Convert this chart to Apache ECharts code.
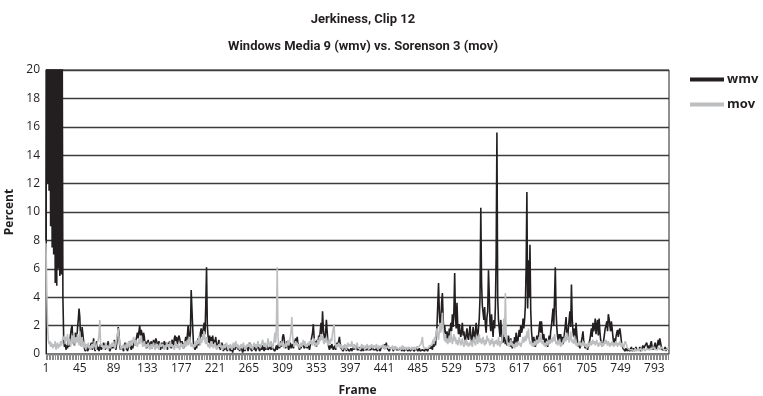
<!DOCTYPE html>
<html><head><meta charset="utf-8">
<script src="https://cdn.jsdelivr.net/npm/echarts@6/dist/echarts.min.js"></script>
<style>html,body{margin:0;padding:0;background:#fff}#c{width:763px;height:396px}</style>
</head><body><div id="c"></div>
<script>
var titleLine1 = "Jerkiness, Clip 12";
var titleLine2 = "Windows Media 9 (wmv) vs. Sorenson 3 (mov)";
var seriesNames = ["wmv", "mov"];
var yTicks = [0,2,4,6,8,10,12,14,16,18,20];

var wmv = [
8,26,12,30,11.5,27,9,29,7.5,25,7,30,5,26,4.8,28,6,31,5.5,27,
5.6,24,4,1.2,0.5,0.8,0.3,0.6,0.4,1.0,0.5,0.9,1.4,1.8,2.0,0.8,1.2,0.6,1.5,1.3,
1.0,1.8,2.4,3.2,2.6,1.1,0.6,1.9,2.0,0.9,0.4,0.2,0.3,0.5,0.2,0.1,0.4,0.3,0.6,0.8,
0.3,0.5,1.1,0.4,0.2,0.6,0.9,0.3,0.5,0.2,0.4,0.7,0.3,0.2,0.5,0.8,0.6,0.3,0.4,0.2,
0.6,0.9,0.4,0.2,0.3,0.5,0.7,0.4,0.6,1.0,0.5,0.3,0.7,1.2,1.9,1.4,0.6,0.3,0.2,0.5,
0.4,0.2,0.6,0.8,0.3,0.5,0.2,0.4,0.7,0.9,0.5,0.3,0.6,0.4,0.8,1.0,0.6,0.9,1.2,1.5,
1.1,1.6,2.0,1.3,1.7,1.4,0.8,1.5,1.2,0.6,0.9,0.4,0.7,1.0,0.5,0.8,0.6,0.9,0.4,0.7,
1.0,0.6,0.8,1.1,1.2,0.7,0.5,0.9,0.6,0.3,0.5,0.8,0.4,0.6,0.9,0.7,0.5,0.8,0.3,0.6,
0.5,0.9,0.7,0.4,1.0,0.8,0.6,1.1,1.3,0.9,1.2,0.7,1.0,1.3,1.1,0.8,0.5,0.9,0.7,0.4,
0.6,0.9,1.2,0.8,1.3,2.0,1.4,0.9,1.5,4.5,4.4,1.8,0.7,0.5,0.3,0.6,0.4,0.8,1.1,0.6,
0.9,1.5,1.8,1.2,1.6,1.9,2.2,1.4,3.5,6.1,2.0,1.2,0.8,1.3,0.6,1.2,0.9,1.3,0.7,1.0,
0.8,1.2,0.6,0.4,0.7,1.0,0.5,0.3,0.6,0.8,0.4,0.2,0.5,0.3,0.7,0.4,0.2,0.3,0.6,0.4,
0.2,0.5,0.3,0.1,0.4,0.6,0.3,0.2,0.4,0.7,0.3,0.5,0.2,0.4,0.6,0.3,0.1,0.3,0.5,0.2,
0.4,0.3,0.6,0.2,0.5,0.8,0.4,0.3,0.2,0.5,0.3,0.6,0.4,0.2,0.3,0.5,0.7,0.4,0.2,0.3,
0.5,0.3,0.6,0.4,0.2,0.5,0.3,0.4,0.6,0.3,0.2,0.4,0.5,0.3,0.6,0.4,0.3,0.5,0.2,0.4,
0.6,0.3,0.5,0.8,0.4,0.6,0.9,0.5,1.2,1.4,1.1,0.6,0.4,0.7,0.9,0.5,0.3,0.6,0.8,0.4,
0.5,0.7,0.4,0.6,0.9,1.1,0.8,1.2,0.7,0.5,0.3,0.6,0.4,0.7,0.5,0.8,0.4,0.3,0.5,0.6,
0.4,0.7,0.5,0.3,0.6,0.9,1.2,1.5,2.1,1.2,0.6,0.9,0.5,1.0,0.7,1.3,1.0,1.6,2.2,1.4,
3.0,1.8,1.2,0.9,1.5,2.4,1.6,0.8,0.5,0.3,0.6,0.4,0.7,0.5,0.3,0.4,0.6,0.3,0.5,0.8,
0.6,0.9,1.2,0.7,0.4,0.3,0.5,0.2,0.4,0.3,0.6,0.2,0.4,0.3,0.5,0.2,0.3,0.4,0.2,0.3,
0.5,0.3,0.2,0.4,0.6,0.3,0.2,0.4,0.3,0.5,0.2,0.3,0.4,0.2,0.5,0.3,0.2,0.4,0.3,0.5,
0.3,0.2,0.4,0.3,0.2,0.5,0.3,0.4,0.2,0.3,0.5,0.2,0.3,0.4,0.3,0.2,0.4,0.5,0.3,0.6,
0.4,0.7,0.5,0.8,0.4,0.3,0.5,0.2,0.4,0.3,0.5,0.4,0.2,0.3,0.5,0.4,0.3,0.2,0.4,0.3,
0.2,0.3,0.4,0.2,0.3,0.5,0.2,0.3,0.2,0.4,0.3,0.2,0.3,0.4,0.2,0.3,0.2,0.4,0.3,0.2,
0.3,0.2,0.4,0.3,0.2,0.3,0.4,0.2,0.3,0.2,0.3,0.4,0.3,0.2,0.4,0.3,0.5,0.2,0.4,0.3,
0.5,0.4,0.6,0.3,0.7,0.5,0.9,0.6,1.2,2.0,3.5,5.0,3.0,1.8,2.4,3.6,4.3,2.5,1.5,2.0,
1.4,0.9,1.6,1.2,1.0,1.8,1.3,2.2,1.6,2.8,1.9,3.0,5.7,2.6,1.8,3.6,2.0,1.4,2.1,1.5,
1.2,1.7,2.2,1.3,1.6,1.1,0.9,1.4,1.8,1.2,1.0,1.5,2.0,1.3,0.8,1.2,1.9,1.4,1.0,1.6,
2.2,1.5,1.1,1.8,2.5,4.0,10.3,5.0,3.4,3.5,2.4,3.3,2.0,1.5,2.6,3.0,5.9,4.2,2.2,1.6,
2.8,1.9,1.2,2.4,1.8,3.3,6.9,15.6,4.0,2.4,1.8,1.2,2.4,1.6,1.0,0.8,1.4,1.1,0.7,1.0,
0.6,0.9,1.3,0.8,0.5,1.1,0.7,0.4,0.9,0.6,1.2,0.8,1.5,1.0,0.7,1.3,1.7,1.2,2.0,1.5,
1.7,2.5,1.8,2.4,3.4,6.0,11.4,3.2,6.6,4.0,7.7,3.1,1.6,1.0,0.7,1.2,0.8,0.5,0.9,1.3,
0.8,1.2,1.8,2.3,1.5,2.3,1.6,1.0,1.4,0.9,0.6,1.1,0.7,0.5,0.9,1.3,0.8,1.6,2.0,2.6,
3.2,2.0,4.0,6.1,3.0,1.8,1.2,0.9,1.4,1.1,1.4,0.8,1.2,0.7,1.0,1.5,2.0,2.6,1.5,1.1,
1.8,2.4,3.0,1.9,4.9,2.5,1.6,1.2,1.8,1.0,2.2,1.4,0.8,0.5,0.7,0.4,0.6,0.9,1.2,1.6,
0.9,0.6,0.4,0.7,0.5,0.3,0.6,0.8,1.0,1.4,1.8,1.2,2.2,1.6,1.9,2.5,1.4,2.0,2.4,1.3,
2.5,1.6,1.0,0.8,0.5,0.7,1.0,1.4,1.8,2.0,2.3,1.6,2.8,2.5,2.0,1.6,2.3,1.8,1.2,0.8,
1.1,0.7,1.2,1.5,1.7,1.2,1.6,1.8,1.4,0.9,0.6,0.4,0.3,0.5,0.2,0.4,0.3,0.2,0.4,0.3,
0.2,0.3,0.5,0.2,0.3,0.4,0.2,0.3,0.5,0.3,0.2,0.4,0.3,0.5,0.2,0.3,0.4,0.6,0.3,0.5,
0.4,0.6,0.8,0.5,0.3,0.6,0.4,0.7,0.9,0.5,0.3,0.4,0.6,0.8,0.5,0.3,0.7,1.0,0.6,1.1,
0.8,0.5,0.3,0.4,0.2,0.3,0.5,0.2,0.4,0.3,0.5,0.3
];

var mov = [
7.8,4.5,2.0,1.0,0.7,0.9,0.5,0.8,0.6,0.4,0.7,0.5,0.9,0.3,0.6,0.8,0.4,0.7,0.5,0.9,
0.6,0.8,1.2,1.0,1.3,0.7,1.2,0.9,1.4,0.6,1.1,0.8,0.5,1.0,1.3,0.7,1.5,1.0,0.6,1.2,
0.8,1.4,1.0,0.6,1.6,0.9,0.5,1.2,0.7,0.4,0.9,0.6,0.3,0.7,0.5,0.8,0.4,0.6,0.3,0.5,
0.7,0.4,0.6,0.9,0.5,0.3,0.6,0.8,1.0,1.3,2.4,0.8,0.5,0.7,0.4,0.6,0.3,0.5,0.8,0.4,
0.6,0.3,0.5,0.7,0.4,0.6,0.8,0.5,0.9,0.6,0.4,0.7,1.0,1.4,1.8,1.2,0.7,0.5,0.3,0.6,
0.4,0.7,0.5,0.3,0.6,0.8,0.4,0.6,0.9,0.5,0.7,1.0,0.6,0.8,1.2,0.9,0.6,1.0,0.7,0.5,
0.8,1.1,0.7,0.9,1.3,0.8,0.5,0.7,0.9,0.6,0.4,0.7,0.5,0.8,0.6,0.3,0.5,0.7,0.4,0.6,
0.8,0.5,0.3,0.6,0.4,0.7,0.5,0.3,0.6,0.8,0.5,0.4,0.7,0.5,0.3,0.6,0.4,0.8,0.5,0.7,
0.4,0.6,0.9,0.5,0.7,0.4,0.6,0.3,0.5,0.8,0.6,0.4,0.7,0.5,0.3,0.6,0.8,0.5,0.7,0.4,
0.6,0.9,0.5,0.7,1.0,0.6,0.8,1.2,0.7,0.5,0.8,0.6,0.4,0.7,0.5,0.9,0.6,1.0,0.7,1.3,
0.9,0.6,1.1,0.8,1.4,1.0,1.6,0.9,0.7,1.2,0.8,0.5,0.7,0.4,0.6,0.9,0.5,0.7,0.4,0.6,
0.8,0.5,0.3,0.6,0.4,0.7,0.5,0.8,0.4,0.6,0.3,0.5,0.7,0.4,0.6,0.8,0.5,0.3,0.6,0.4,
0.7,0.5,0.3,0.6,0.8,0.4,0.6,0.9,0.5,0.7,0.4,0.6,0.3,0.5,0.7,0.4,0.6,0.8,0.5,0.3,
0.6,0.4,0.7,0.5,0.8,0.6,0.4,0.7,0.5,0.3,0.6,0.8,0.5,0.7,0.4,0.6,0.9,0.5,0.7,0.4,
0.6,0.8,1.0,0.7,0.5,0.8,0.6,0.4,0.7,1.1,0.8,0.5,0.7,0.9,0.6,0.4,0.7,1.0,1.5,0.8,
2.0,6.1,1.2,0.7,0.5,0.8,0.6,0.9,0.5,0.7,0.4,0.6,0.8,0.5,0.7,1.0,0.6,0.8,1.2,1.6,
2.6,1.3,0.8,0.5,0.7,0.9,0.6,0.8,0.5,0.7,0.4,0.6,0.8,0.5,0.7,1.0,0.6,0.9,0.5,0.7,
0.5,0.8,0.6,0.9,0.7,1.0,0.8,0.6,0.9,1.1,0.7,0.5,0.8,0.6,1.0,0.7,1.2,0.9,1.4,1.0,
1.3,0.9,0.7,1.1,0.8,1.2,0.9,0.6,0.8,1.0,0.7,1.1,0.9,1.5,1.8,2.1,0.8,0.6,0.4,0.7,
0.5,0.8,0.6,0.4,0.7,0.5,0.3,0.6,0.4,0.7,0.5,0.3,0.6,0.8,0.5,0.4,0.7,0.5,0.9,0.6,
0.4,0.7,0.5,0.3,0.6,0.8,0.5,0.4,0.6,0.3,0.5,0.7,0.4,0.6,0.5,0.3,0.6,0.4,0.7,0.5,
0.3,0.6,0.4,0.5,0.7,0.4,0.3,0.6,0.5,0.4,0.7,0.5,0.3,0.6,0.4,0.5,0.3,0.6,0.4,0.7,
0.5,0.3,0.6,0.4,0.5,0.3,0.6,0.4,0.3,0.5,0.4,0.6,0.3,0.5,0.4,0.3,0.5,0.4,0.6,0.3,
0.4,0.5,0.3,0.4,0.6,0.3,0.5,0.4,0.3,0.5,0.4,0.3,0.5,0.6,0.4,0.3,0.5,0.4,0.3,0.5,
0.4,0.3,0.5,0.4,0.6,0.5,0.4,0.6,0.7,0.9,1.2,0.6,0.4,0.3,0.5,0.4,0.3,0.5,0.4,0.6,
0.5,0.7,0.6,0.8,1.0,0.7,1.2,0.9,1.4,1.8,1.3,1.0,1.6,2.2,1.5,2.0,2.9,1.8,1.2,0.9,
1.4,0.8,1.1,0.7,0.9,1.3,0.8,1.6,1.1,0.7,1.0,1.4,0.9,1.2,0.7,1.0,0.6,0.9,1.2,0.8,
0.6,0.9,1.1,0.7,0.5,0.8,1.0,0.6,0.9,0.7,0.5,0.8,0.6,1.0,0.7,0.5,0.9,1.2,0.8,0.6,
0.9,1.3,0.7,1.0,1.4,0.8,1.1,0.7,0.9,1.2,0.8,0.6,1.0,0.7,1.3,0.9,1.1,0.8,0.6,1.0,
0.7,1.1,0.8,0.5,0.9,0.7,1.0,0.8,0.6,1.2,0.8,0.5,0.9,0.7,1.1,1.6,2.5,1.2,4.3,1.5,
0.9,0.6,0.8,0.5,0.7,1.0,0.6,0.8,0.5,0.7,0.4,0.6,0.8,0.5,0.7,0.9,0.6,0.8,0.5,0.7,
0.9,1.2,0.8,1.0,1.3,0.9,1.6,1.1,1.8,1.0,0.7,0.9,0.6,0.8,0.5,0.7,0.9,0.6,0.8,1.0,
0.7,0.9,1.2,0.8,1.4,1.0,0.7,0.9,0.6,0.8,0.5,0.7,0.9,0.6,0.8,1.0,0.7,0.9,1.1,0.8,
1.2,0.9,1.4,1.0,0.7,0.9,0.6,0.8,1.0,0.7,0.5,0.8,0.6,0.9,1.1,0.8,1.3,0.9,1.5,1.0,
1.2,0.8,1.0,1.6,1.1,0.8,1.0,0.7,1.3,0.9,0.6,0.8,0.5,0.7,0.9,0.6,0.8,0.5,0.7,0.9,
0.6,0.8,0.5,0.7,0.4,0.6,0.8,0.5,0.7,0.9,0.6,0.8,1.0,0.7,0.9,0.6,0.8,1.0,0.7,0.5,
0.8,0.6,0.9,0.7,0.5,0.8,0.6,0.9,0.7,1.0,0.8,0.6,0.9,0.7,0.5,0.8,0.6,0.9,0.7,0.5,
0.8,0.6,0.9,0.7,0.5,0.8,0.6,0.9,0.7,0.5,0.8,0.6,0.4,0.7,0.9,1.0,0.6,0.4,0.3,0.5,
0.3,0.4,0.2,0.3,0.4,0.3,0.2,0.4,0.3,0.2,0.3,0.4,0.2,0.3,0.4,0.3,0.2,0.3,0.4,0.3,
0.2,0.3,0.4,0.3,0.5,0.3,0.4,0.2,0.3,0.4,0.3,0.5,0.4,0.3,0.2,0.4,0.3,0.5,0.4,0.3,
0.4,0.3,0.5,0.4,0.3,0.2,0.4,0.3,0.2,0.3,0.4,0.3
];

var frames = wmv.map(function (_, i) { return String(i + 1); });

var FONT = "'Open Sans', 'Noto Sans', sans-serif";
var TFONT = "Roboto, 'Open Sans', sans-serif";
var INK = '#231f20';

var chart = echarts.init(document.getElementById('c'), null, {renderer: 'canvas'});
chart.setOption({
  animation: false,
  backgroundColor: '#fff',
  title: [
    {text: titleLine1, left: 358, top: 8, textAlign: 'center',
     textStyle: {fontFamily: TFONT, fontWeight: 'bold', fontSize: 13, color: INK}},
    {text: titleLine2, left: 358, top: 35, textAlign: 'center',
     textStyle: {fontFamily: TFONT, fontWeight: 'bold', fontSize: 13, color: INK}}
  ],
  legend: {
    orient: 'vertical', left: 685, top: 68,
    itemWidth: 34, itemHeight: 4, itemGap: 12, icon: 'rect',
    textStyle: {fontFamily: FONT, fontWeight: 'bold', fontSize: 13, color: INK, padding: [0,0,0,-2]},
    data: seriesNames
  },
  grid: {left: 46, right: 94, top: 70, bottom: 42, outerBoundsMode: 'none', containLabel: false,
         show: true, borderColor: '#231f20', borderWidth: 1},
  xAxis: {
    type: 'category', data: frames, boundaryGap: false,
    name: 'Frame', nameLocation: 'middle', nameGap: 31,
    nameTextStyle: {fontFamily: FONT, fontWeight: 'bold', fontSize: 12, color: INK},
    axisLine: {show: true, lineStyle: {color: '#777', width: 1}},
    axisTick: {show: true, interval: 1, length: 6, lineStyle: {color: '#8a8a8a', width: 1}},
    axisLabel: {interval: 43, fontFamily: FONT, fontSize: 12, color: INK, margin: 9},
    splitLine: {show: false}
  },
  yAxis: {
    type: 'value', min: yTicks[0], max: yTicks[yTicks.length - 1], interval: 2,
    name: 'Percent', nameLocation: 'middle', nameGap: 27, nameRotate: 90,
    nameTextStyle: {fontFamily: FONT, fontWeight: 'bold', fontSize: 12, color: INK},
    axisLine: {show: true, lineStyle: {color: INK, width: 1}},
    axisTick: {show: false},
    axisLabel: {fontFamily: FONT, fontSize: 12, color: INK, margin: 6},
    splitLine: {show: true, lineStyle: {color: '#3c3c3c', width: 1.3}}
  },
  series: [
    {name: seriesNames[0], type: 'line', data: wmv, showSymbol: false, symbol: 'none',
     lineStyle: {color: INK, width: 1.6}, itemStyle: {color: INK}, clip: true, z: 2},
    {name: seriesNames[1], type: 'line', data: mov, showSymbol: false, symbol: 'none',
     lineStyle: {color: '#bcbec0', width: 1.6}, itemStyle: {color: '#bcbec0'}, clip: true, z: 3}
  ]
});
</script>
</body></html>
